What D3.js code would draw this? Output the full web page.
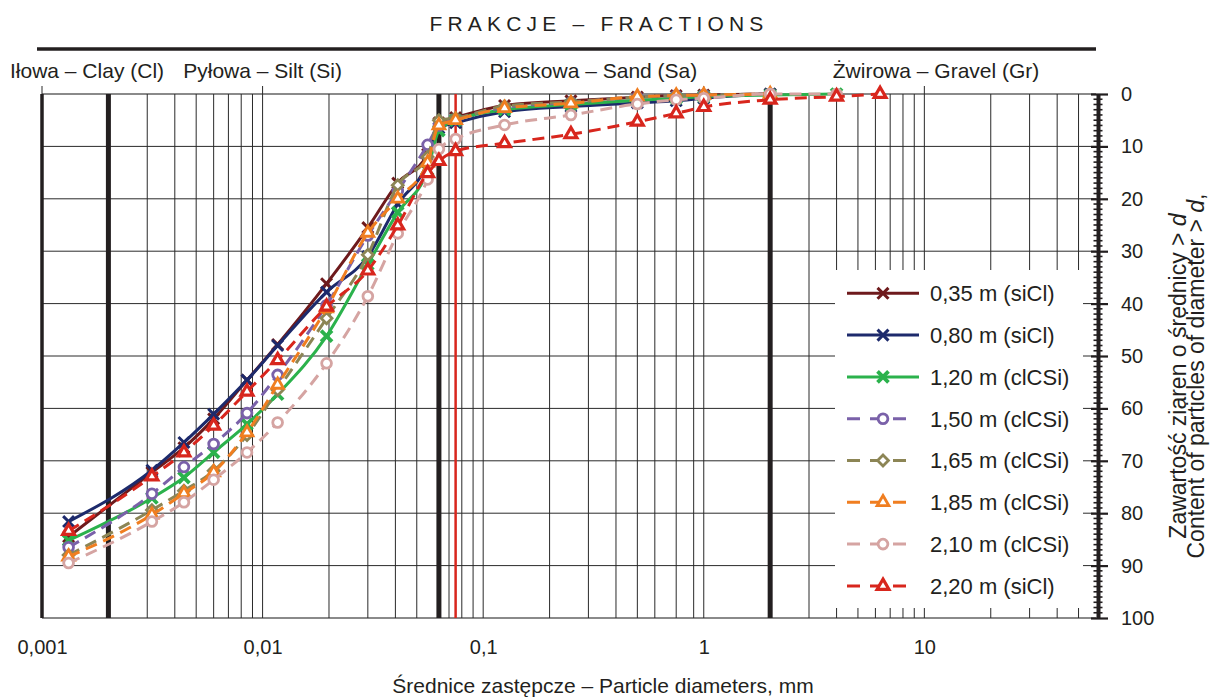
<!DOCTYPE html>
<html lang="pl">

<head>
    <meta charset="UTF-8">
    <title>Frakcje - Fractions</title>

    <!-- Load d3.js -->
    <script src="https://d3js.org/d3.v7.min.js"></script>

    <style>
        body {
            margin: 0;
            background: #fff;
        }

        svg {
            font-family: "Liberation Sans", Arial, sans-serif;
            fill: #231f20;
        }
    </style>
</head>

<body>
    <div id="chart"></div>

    <script>

        // particle diameters, mm (same sieve / hydrometer set for every sample)
        const diameters = [0.00132, 0.00315, 0.0044, 0.006, 0.0085, 0.0117, 0.0195, 0.030, 0.041, 0.056,
            0.063, 0.075, 0.125, 0.25, 0.5, 0.75, 1, 2, 4, 6.3];

        // content of particles > d, % (null = no measurement)
        const s035 = [84.5, 72.2, 67.5, 62.0, 54.6, 47.8, 36.2, 25.5, 17.0, 11.5, 5.5, 4.5, 2.2, 1.3, 0.6, 0.3, 0.2, 0, null, null];
        const s080 = [81.6, 71.8, 66.5, 61.1, 54.6, 48.0, 37.8, 31.0, 21.0, 13.0, 6.5, 5.5, 3.4, 2.4, 1.7, 1.3, 0.8, 0, null, null];
        const s120 = [85.2, 77.1, 73.2, 68.4, 63.0, 57.3, 46.2, 32.5, 22.6, 14.5, 7.0, 5.0, 3.0, 2.0, 1.2, 0.8, 0.5, 0.2, 0, null];
        const s150 = [86.5, 76.3, 71.2, 66.8, 60.9, 53.6, 40.3, 27.0, 18.5, 9.7, 6.0, 4.8, 2.6, 1.6, 0.6, 0.3, 0.2, 0, null, null];
        const s165 = [88.0, 79.4, 75.7, 71.9, 65.1, 56.5, 42.8, 30.7, 17.4, 12.0, 5.0, 4.6, 2.3, 1.5, 0.6, 0.3, 0.2, 0, null, null];
        const s185 = [88.3, 80.3, 76.2, 72.2, 64.6, 55.5, 40.9, 26.5, 20.0, 13.1, 6.0, 5.0, 2.7, 1.8, 0.5, 0.3, 0.2, 0, null, null];
        const s210 = [89.5, 81.6, 77.9, 73.6, 68.4, 62.7, 51.4, 38.6, 26.6, 16.3, 10.5, 8.6, 5.9, 4.0, 1.9, 1.1, 0.8, 0, 0, null];
        const s220 = [83.4, 73.0, 68.4, 63.3, 56.8, 50.8, 40.6, 33.7, 25.1, 15.1, 12.8, 10.9, 9.4, 7.7, 5.3, 3.7, 2.5, 1.1, 0.5, 0];

        const sampleNames = ["0,35 m (siCl)", "0,80 m (siCl)", "1,20 m (clCSi)", "1,50 m (clCSi)",
            "1,65 m (clCSi)", "1,85 m (clCSi)", "2,10 m (clCSi)", "2,20 m (siCl)"];
        const sampleValues = [s035, s080, s120, s150, s165, s185, s210, s220];

        // axis ticks
        const xTicks = [0.001, 0.01, 0.1, 1, 10];
        const xTickLabels = ["0,001", "0,01", "0,1", "1", "10"];
        const yTicks = [0, 10, 20, 30, 40, 50, 60, 70, 80, 90, 100];

        // log grid lines, fraction limits and the 0,075 mm line
        const xGrid = [0.001, 0.002, 0.003, 0.004, 0.005, 0.006, 0.007, 0.008, 0.009,
            0.01, 0.02, 0.03, 0.04, 0.05, 0.063, 0.07, 0.08, 0.09,
            0.1, 0.2, 0.3, 0.4, 0.5, 0.6, 0.75, 0.9,
            1, 2, 3, 4, 5, 6, 7, 8, 9, 10, 20, 30, 40, 50];
        const fractionLimits = [0.001, 0.002, 0.063, 2];
        const redLimit = 0.075;

        // fraction names and the diameter their label is centred on
        const fractionNames = ["Iłowa – Clay (Cl)", "Pyłowa – Silt (Si)", "Piaskowa – Sand (Sa)", "Żwirowa – Gravel (Gr)"];
        const fractionAt = [0.0016, 0.01, 0.316, 11.3];

        // series look
        const styles = [
            { color: "#6e1a1c", dash: null, symbol: d3.symbolX, size: 80, fill: "none", sw: 3 },
            { color: "#1d2a6c", dash: null, symbol: d3.symbolX, size: 80, fill: "none", sw: 3 },
            { color: "#2bb24c", dash: null, symbol: d3.symbolX, size: 80, fill: "none", sw: 3.8 },
            { color: "#7a61a9", dash: "12,7", symbol: d3.symbolCircle, size: 75, fill: "#fff", sw: 2.8 },
            { color: "#8c8555", dash: "12,7", symbol: d3.symbolDiamond2, size: 75, fill: "#fff", sw: 2.8 },
            { color: "#f07e20", dash: "12,7", symbol: d3.symbolTriangle2, size: 100, fill: "#fff", sw: 2.8 },
            { color: "#d5a4a2", dash: "12,7", symbol: d3.symbolCircle, size: 75, fill: "#fff", sw: 2.8 },
            { color: "#d8261d", dash: "12,7", symbol: d3.symbolTriangle2, size: 100, fill: "#fff", sw: 3.2 }
        ];

        const width = 1212, height = 697;

        const svg = d3.select("#chart")
            .append("svg")
            .attr("width", width)
            .attr("height", height);

        const x = d3.scaleLog().domain([0.001, 60]).range([42, 1096]);
        const y = d3.scaleLinear().domain([0, 100]).range([94, 618]);

        // horizontal grid
        svg.append("g")
            .selectAll("line")
            .data(yTicks)
            .join("line")
            .attr("x1", x(0.001))
            .attr("x2", x(60))
            .attr("y1", d => y(d))
            .attr("y2", d => y(d))
            .attr("stroke", d => (d === 0 || d === 100) ? "#8a8a8a" : "#2a2a2a")
            .attr("stroke-width", d => (d === 0 || d === 100) ? 2 : 1);

        // vertical grid
        svg.append("g")
            .selectAll("line")
            .data(xGrid.filter(d => !fractionLimits.includes(d)))
            .join("line")
            .attr("x1", d => x(d))
            .attr("x2", d => x(d))
            .attr("y1", y(0))
            .attr("y2", y(100))
            .attr("stroke", "#2a2a2a")
            .attr("stroke-width", 1);

        // short ticks above the grid at each decade
        svg.append("g")
            .selectAll("line")
            .data(xTicks)
            .join("line")
            .attr("x1", d => x(d))
            .attr("x2", d => x(d))
            .attr("y1", y(0) - 8)
            .attr("y2", y(0))
            .attr("stroke", "#2a2a2a")
            .attr("stroke-width", 1);

        // fraction limits (thick)
        svg.append("g")
            .selectAll("line")
            .data(fractionLimits)
            .join("line")
            .attr("x1", d => x(d))
            .attr("x2", d => x(d))
            .attr("y1", y(0))
            .attr("y2", y(100))
            .attr("stroke", "#231f20")
            .attr("stroke-width", d => d === 0.001 ? 3.5 : 5);

        svg.append("line")
            .attr("x1", x(redLimit))
            .attr("x2", x(redLimit))
            .attr("y1", y(0))
            .attr("y2", y(100))
            .attr("stroke", "#d8261d")
            .attr("stroke-width", 2.5);

        // white legend box hides the grid under it
        svg.append("rect")
            .attr("x", 835)
            .attr("y", 270)
            .attr("width", 248)
            .attr("height", 338)
            .attr("fill", "#fff");

        // header
        svg.append("text")
            .attr("x", 599)
            .attr("y", 31)
            .attr("text-anchor", "middle")
            .style("font-size", "21px")
            .style("letter-spacing", "5.2px")
            .text("FRAKCJE – FRACTIONS");

        svg.append("line")
            .attr("x1", 37)
            .attr("x2", 1096)
            .attr("y1", 49)
            .attr("y2", 49)
            .attr("stroke", "#231f20")
            .attr("stroke-width", 3.5);

        svg.append("g")
            .selectAll("text")
            .data(fractionNames)
            .join("text")
            .attr("x", (d, i) => x(fractionAt[i]))
            .attr("y", 78)
            .attr("text-anchor", "middle")
            .style("font-size", "21px")
            .text(d => d);

        // curves
        const line = d3.line()
            .x(p => x(p.d))
            .y(p => y(p.v))
            .curve(d3.curveMonotoneX);

        const series = sampleNames.map((name, i) => ({
            name: name,
            style: styles[i],
            points: diameters.map((d, j) => ({ d: d, v: sampleValues[i][j] })).filter(p => p.v !== null)
        }));

        const plot = svg.append("g");

        series.forEach(s => {
            plot.append("path")
                .datum(s.points)
                .attr("d", line)
                .attr("fill", "none")
                .attr("stroke", s.style.color)
                .attr("stroke-width", 3)
                .attr("stroke-dasharray", s.style.dash);

            plot.append("g")
                .selectAll("path")
                .data(s.points)
                .join("path")
                .attr("transform", p => `translate(${x(p.d)},${y(p.v)})`)
                .attr("d", d3.symbol().type(s.style.symbol).size(s.style.size))
                .attr("fill", s.style.fill)
                .attr("stroke", s.style.color)
                .attr("stroke-width", s.style.sw);
        });

        // legend
        const legend = svg.append("g")
            .selectAll("g")
            .data(series)
            .join("g")
            .attr("transform", (d, i) => `translate(0,${293.3 + i * 41.8})`);

        legend.append("line")
            .attr("x1", 847)
            .attr("x2", d => d.style.dash ? 907 : 919)
            .attr("stroke", d => d.style.color)
            .attr("stroke-width", 3)
            .attr("stroke-dasharray", d => d.style.dash ? "13,10" : null);

        legend.append("path")
            .attr("transform", "translate(883,0)")
            .attr("d", d => d3.symbol().type(d.style.symbol).size(d.style.size)())
            .attr("fill", d => d.style.fill)
            .attr("stroke", d => d.style.color)
            .attr("stroke-width", d => d.style.sw);

        legend.append("text")
            .attr("x", 930)
            .attr("dy", "0.36em")
            .style("font-size", "22px")
            .text(d => d.name);

        // right axis
        const yAxis = svg.append("g")
            .attr("transform", "translate(1098,0)")
            .call(d3.axisRight(y).tickValues(yTicks).tickSize(10).tickSizeOuter(0).tickPadding(13));

        yAxis.select(".domain")
            .attr("stroke", "#231f20")
            .attr("stroke-width", 4);

        yAxis.selectAll(".tick line")
            .attr("x1", -7)
            .attr("stroke", "#231f20")
            .attr("stroke-width", 2.2);

        yAxis.selectAll(".tick text")
            .style("font-size", "20px")
            .attr("fill", "#231f20");

        yAxis.append("g")
            .selectAll("line")
            .data(d3.range(0, 101).filter(v => v % 10 !== 0))
            .join("line")
            .attr("x1", -4.5)
            .attr("x2", 4.5)
            .attr("y1", d => y(d))
            .attr("y2", d => y(d))
            .attr("stroke", "#231f20")
            .attr("stroke-width", 1.6);

        // bottom axis labels
        const xAxis = svg.append("g")
            .attr("transform", `translate(0,${y(100)})`)
            .call(d3.axisBottom(x).tickValues(xTicks).tickFormat((d, i) => xTickLabels[i]).tickSize(0).tickPadding(22));

        xAxis.select(".domain").remove();
        xAxis.selectAll("text")
            .style("font-size", "20px")
            .attr("fill", "#231f20");

        // axis titles
        svg.append("text")
            .attr("x", 603)
            .attr("y", 693)
            .attr("text-anchor", "middle")
            .style("font-size", "21px")
            .text("Średnice zastępcze – Particle diameters, mm");

        const t1 = svg.append("text")
            .attr("transform", "translate(1186,376) rotate(-90)")
            .attr("text-anchor", "middle")
            .style("font-size", "23px");
        t1.append("tspan").text("Zawartość ziaren o średnicy > ");
        t1.append("tspan").style("font-style", "italic").text("d");

        const t2 = svg.append("text")
            .attr("transform", "translate(1204,376) rotate(-90)")
            .attr("text-anchor", "middle")
            .style("font-size", "23px");
        t2.append("tspan").text("Content of particles of diameter > ");
        t2.append("tspan").style("font-style", "italic").text("d");
        t2.append("tspan").text(",");

    </script>
</body>

</html>
